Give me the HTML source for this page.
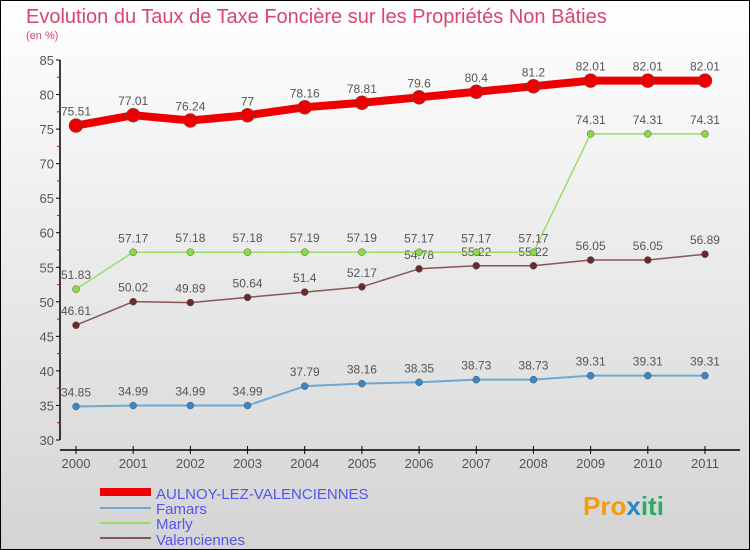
<!DOCTYPE html>
<html><head><meta charset="utf-8"><style>
body{margin:0}
#c{width:750px;height:550px;position:relative;overflow:hidden;font-family:"Liberation Sans",sans-serif}
svg text{font-family:"Liberation Sans",sans-serif}
</style></head><body>
<div id="c">
<svg id="s" width="750" height="550" xmlns="http://www.w3.org/2000/svg">
<defs><linearGradient id="bg" x1="0" y1="0" x2="0" y2="1"><stop offset="0" stop-color="#ffffff"/><stop offset="1" stop-color="#d4d4d4"/></linearGradient></defs>
<rect x="0.5" y="0.5" width="749" height="549" fill="url(#bg)" stroke="#000"/>
<text x="26" y="23" font-size="20" fill="#d9466a">Evolution du Taux de Taxe Foncière sur les Propriétés Non Bâties</text>
<text x="26" y="39" font-size="11" fill="#d9466a">(en %)</text>
<g id="axes"></g><g id="series"></g>
<g>
<rect x="100" y="488" width="51" height="8" fill="#ee0000"/>
<text x="156" y="499" font-size="15" fill="#5555ee">AULNOY-LEZ-VALENCIENNES</text>
<rect x="100" y="507" width="51" height="2" fill="#6fa8d0"/>
<text x="156" y="514" font-size="15" fill="#5555ee">Famars</text>
<rect x="100" y="522" width="51" height="2" fill="#99dd66"/>
<text x="156" y="529" font-size="15" fill="#5555ee">Marly</text>
<rect x="100" y="537" width="51" height="2" fill="#8a5555"/>
<text x="156" y="545" font-size="15" fill="#5555ee">Valenciennes</text>
</g>
<text x="583" y="515" font-size="26" font-weight="bold" fill="#f39c12">Pro<tspan fill="#2e86c1">x</tspan><tspan fill="#27ae60">iti</tspan></text>
</svg></div>
<script>
const years=["2000","2001","2002","2003","2004","2005","2006","2007","2008","2009","2010","2011"];
const yTicks=[30,35,40,45,50,55,60,65,70,75,80,85];
const aulnoy=[75.51,77.01,76.24,77,78.16,78.81,79.6,80.4,81.2,82.01,82.01,82.01];
const famars=[34.85,34.99,34.99,34.99,37.79,38.16,38.35,38.73,38.73,39.31,39.31,39.31];
const marly=[51.83,57.17,57.18,57.18,57.19,57.19,57.17,57.17,57.17,74.31,74.31,74.31];
const valenciennes=[46.61,50.02,49.89,50.64,51.4,52.17,54.78,55.22,55.22,56.05,56.05,56.89];
const NS="http://www.w3.org/2000/svg";
function X(i){return 76+i*57.18;}
function Y(v){return 440-(v-30)*(380/55);}
function mk(t,a,p){const e=document.createElementNS(NS,t);for(const k in a)e.setAttribute(k,a[k]);p.appendChild(e);return e;}
const ax=document.getElementById('axes');
const yl=mk('line',{x1:60,y1:Y(85),x2:60,y2:Y(30),stroke:'#000','stroke-width':1.5},ax);


yTicks.forEach(v=>{
 mk('line',{x1:56,y1:Y(v),x2:60,y2:Y(v),stroke:'#000'},ax);
 if(v<85)mk('line',{x1:57,y1:Y(v+2.5),x2:60,y2:Y(v+2.5),stroke:'#e00'},ax);
 const t=mk('text',{x:54,y:Y(v)+5,'font-size':13,fill:'#555','text-anchor':'end'},ax);t.textContent=v;
 
 
});
const xl=mk('line',{x1:60,y1:450,x2:740,y2:450,stroke:'#000','stroke-width':1.5},ax);


years.forEach((y,i)=>{
 mk('line',{x1:X(i),y1:446,x2:X(i),y2:454,stroke:'#000'},ax);
 const t=mk('text',{x:X(i),y:468,'font-size':13,fill:'#555','text-anchor':'middle'},ax);t.textContent=y;
 
 
});
const sg=document.getElementById('series');
function draw(name,vals,col,lw,r,pt){
 const g=mk('g',{},sg);
 
 
 mk('polyline',{points:vals.map((v,i)=>X(i)+','+Y(v)).join(' '),fill:'none',stroke:col,'stroke-width':lw,'stroke-linejoin':'round'},g);
 vals.forEach((v,i)=>{
  const c=mk('circle',{cx:X(i),cy:Y(v),r:r,fill:pt,stroke:'#555','stroke-width':0.5},g);
  
  
  const t=mk('text',{x:X(i),y:Y(v)-10,'font-size':12,fill:'#555','text-anchor':'middle'},g);t.textContent=String(v);
  
  
 });
}
draw('famars',famars,'#6fa8d0',2,3.5,'#3a87c8');
draw('valenciennes',valenciennes,'#8a5555',1.5,3.5,'#6a2a2a');
draw('marly',marly,'#99dd66',1.5,3.5,'#88dd44');
draw('aulnoy',aulnoy,'#ee0000',8,7,'#ee0000');
</script>
</body></html>
